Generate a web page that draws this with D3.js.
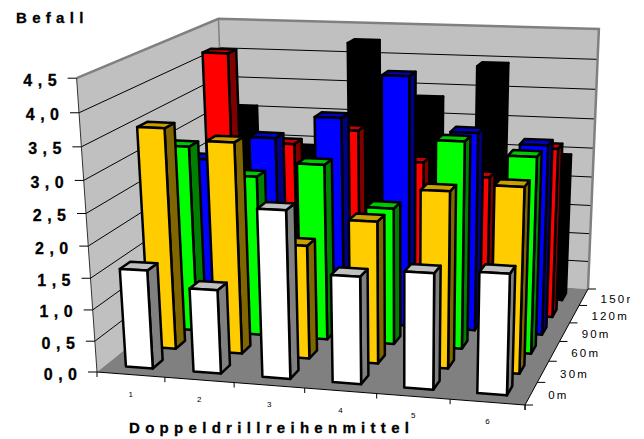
<!DOCTYPE html>
<html>
<head>
<meta charset="utf-8">
<script src="https://cdn.jsdelivr.net/npm/d3@7"></script>
<style>
  html, body { margin: 0; padding: 0; background: #fff; }
  svg { display: block; }
  text { font-family: "Liberation Sans", Arial, sans-serif; fill: #000; }
</style>
</head>
<body>
<svg id="chart" width="644" height="439"></svg>
<script>
// Befall je Reihe (Doppeldrillreihenmittel) und Entfernung
const categories = ["1", "2", "3", "4", "5", "6"];
const distances = ["0m", "30m", "60m", "90m", "120m", "150m"];
const values0m   = [1.57, 1.33, 2.62, 1.68, 1.80, 1.86];
const values30m  = [3.54, 3.37, 1.82, 2.26, 2.78, 2.90];
const values60m  = [3.05, 2.62, 2.86, 2.22, 3.32, 3.13];
const values90m  = [2.63, 3.03, 3.40, 4.10, 3.25, 3.10];
const values120m = [4.20, 2.73, 3.00, 2.52, 2.32, 2.84];
const values150m = [3.07, 2.42, 4.27, 3.35, 3.95, 2.45];
const rows = [values0m, values30m, values60m, values90m, values120m, values150m];
const zTicks = [0, 0.5, 1, 1.5, 2, 2.5, 3, 3.5, 4, 4.5];
const faceColors = ["#ffffff", "#ffcc00", "#00ff00", "#0000ff", "#ff0000", "#000000"];
const sideColors = ["#808080", "#806600", "#008000", "#000080", "#800000", "#000000"];
const topColors  = ["#c0c0c0", "#c8a000", "#00c800", "#0000c8", "#c80000", "#000000"];

// Perspective camera: floor homography, with the height column fitted to the wall corners
const floorQuad = [[97, 372], [525, 405], [588, 289], [228, 267]];
const wallTops = [[0, 0, 77, 78], [0, 1, 218, 18], [1, 1, 599, 30]];

function squareToQuad(q) {
  const [[x0, y0], [x1, y1], [x2, y2], [x3, y3]] = q;
  const dx1 = x1 - x2, dx2 = x3 - x2, sx = x0 - x1 + x2 - x3;
  const dy1 = y1 - y2, dy2 = y3 - y2, sy = y0 - y1 + y2 - y3;
  const den = dx1 * dy2 - dx2 * dy1;
  const g = (sx * dy2 - dx2 * sy) / den;
  const h = (dx1 * sy - sx * dy1) / den;
  return { a: x1 - x0 + g * x1, b: x3 - x0 + h * x3, c: x0,
           d: y1 - y0 + g * y1, e: y3 - y0 + h * y3, f: y0, g, h };
}
const H = squareToQuad(floorQuad);

// Least-squares solve for the vertical column (cx, cy, cw)
function fitHeightColumn() {
  const A = [[0,0,0],[0,0,0],[0,0,0]], B = [0,0,0];
  const add = (row, rhs) => {
    for (let i = 0; i < 3; i++) {
      B[i] += row[i] * rhs;
      for (let j = 0; j < 3; j++) A[i][j] += row[i] * row[j];
    }
  };
  wallTops.forEach(([u, v, X, Y]) => {
    const W = H.g * u + H.h * v + 1;
    add([1, 0, -X], X * W - (H.a * u + H.b * v + H.c));
    add([0, 1, -Y], Y * W - (H.d * u + H.e * v + H.f));
  });
  const det = m => m[0][0]*(m[1][1]*m[2][2]-m[1][2]*m[2][1])
                 - m[0][1]*(m[1][0]*m[2][2]-m[1][2]*m[2][0])
                 + m[0][2]*(m[1][0]*m[2][1]-m[1][1]*m[2][0]);
  const d = det(A);
  return [0, 1, 2].map(k => det(A.map((r, i) => r.map((n, j) => j === k ? B[i] : n))) / d);
}
const [cx, cy, cw] = fitHeightColumn();

const zScale = d3.scaleLinear().domain([0, 4.5]).range([0, 1]);
const uScale = d3.scaleBand().domain(categories).range([0, 1]).paddingInner(0.6).paddingOuter(0.3);
const vScale = d3.scaleBand().domain(distances).range([0, 1]).paddingInner(0.58).paddingOuter(0.35);
const uCell = d3.scaleBand().domain(categories).range([0, 1]);
const vCell = d3.scaleBand().domain(distances).range([0, 1]);

function project(u, v, z) {
  const t = zScale(z);
  const w = H.g * u + H.h * v + 1 + t * cw;
  return [(H.a * u + H.b * v + H.c + t * cx) / w,
          (H.d * u + H.e * v + H.f + t * cy) / w];
}
const poly = pts => "M" + pts.map(p => p.map(n => n.toFixed(2)).join(",")).join("L") + "Z";

const svg = d3.select("#chart");
const root = svg.append("g");

// Walls and floor
const zMax = 4.5;
root.append("path").attr("d", poly([project(0,0,0), project(0,1,0), project(0,1,zMax), project(0,0,zMax)]))
  .attr("fill", "#c0c0c0");
root.append("path").attr("d", poly([project(0,1,0), project(1,1,0), project(1,1,zMax), project(0,1,zMax)]))
  .attr("fill", "#c0c0c0");
root.append("path").attr("d", poly([project(0,0,0), project(1,0,0), project(1,1,0), project(0,1,0)]))
  .attr("fill", "#808080");

// Horizontal gridlines along both walls
zTicks.slice(1, -1).forEach(z => {
  root.append("path").attr("fill", "none").attr("stroke", "#000").attr("stroke-width", 1)
    .attr("d", d3.line()([project(0, 0, z), project(0, 1, z), project(1, 1, z)]));
});

// Wall outlines
root.append("path").attr("fill", "none").attr("stroke", "#808080").attr("stroke-width", 2.5)
  .attr("d", d3.line()([project(0,0,zMax), project(0,1,zMax), project(1,1,zMax), project(1,1,0)]));
root.append("path").attr("fill", "none").attr("stroke", "#808080").attr("stroke-width", 1.5)
  .attr("d", d3.line()([project(0,1,zMax), project(0,1,0)]));
root.append("path").attr("fill", "none").attr("stroke", "#333").attr("stroke-width", 1)
  .attr("d", d3.line()([project(0,0,zMax), project(0,0,0)]));
root.append("path").attr("fill", "none").attr("stroke", "#000").attr("stroke-width", 1)
  .attr("d", d3.line()([project(0,0,0), project(1,0,0), project(1,1,0)]));

// Axis ticks and value labels
const axes = root.append("g");
zTicks.forEach(z => {
  const p = project(0, 0, z);
  axes.append("line").attr("x1", p[0] - 9).attr("x2", p[0]).attr("y1", p[1]).attr("y2", p[1])
    .attr("stroke", "#000");
  axes.append("text").attr("x", p[0] - 14.5).attr("y", p[1] + 7.5)
    .attr("text-anchor", "end").attr("font-size", 16).attr("font-weight", "bold")
    .attr("stroke", "#000").attr("stroke-width", 0.3)
    .attr("letter-spacing", 5.5).text(d3.format(".1f")(z).replace(".", ","));
});
categories.forEach((c, i) => {
  const p = project((i + 1) / 6, 0, 0);
  axes.append("line").attr("x1", p[0]).attr("x2", p[0]).attr("y1", p[1]).attr("y2", p[1] + 5)
    .attr("stroke", "#000");
  const q = project(uCell(c) + uCell.bandwidth() / 2, 0, 0);
  axes.append("text").attr("x", q[0]).attr("y", q[1] + 22).attr("text-anchor", "middle")
    .attr("font-size", 8).text(c);
});
const p00 = project(0, 0, 0);
axes.append("line").attr("x1", p00[0]).attr("x2", p00[0]).attr("y1", p00[1]).attr("y2", p00[1] + 5).attr("stroke", "#000");

// Distance labels are cut off by the chart's right margin
svg.append("clipPath").attr("id", "margin").append("rect")
  .attr("x", 0).attr("y", 0).attr("width", 630).attr("height", 439);
const depthAxis = axes.append("g").attr("clip-path", "url(#margin)");
distances.forEach((d, i) => {
  const p = project(1, (i + 1) / 6, 0);
  axes.append("line").attr("x1", p[0]).attr("x2", p[0] + 8).attr("y1", p[1]).attr("y2", p[1]).attr("stroke", "#000");
  const q = project(1, vCell(d) + vCell.bandwidth() / 2, 0);
  depthAxis.append("text").attr("x", q[0] + 17).attr("y", q[1] + 6)
    .attr("font-size", 11.5).attr("letter-spacing", 2.2).text(d);
});
const p10 = project(1, 0, 0);
axes.append("line").attr("x1", p10[0]).attr("x2", p10[0] + 8).attr("y1", p10[1]).attr("y2", p10[1]).attr("stroke", "#000");
axes.append("line").attr("x1", p10[0]).attr("x2", p10[0]).attr("y1", p10[1]).attr("y2", p10[1] + 5).attr("stroke", "#000");

// Columns, back row first so nearer bars overlap
const bars = root.append("g").attr("stroke", "#000").attr("stroke-width", 2.5).attr("stroke-linejoin", "round");
for (let s = distances.length - 1; s >= 0; s--) {
  categories.forEach((c, i) => {
    const u0 = uScale(c), u1 = u0 + uScale.bandwidth();
    const v0 = vScale(distances[s]), v1 = v0 + vScale.bandwidth();
    const z = rows[s][i];
    bars.append("path").attr("fill", sideColors[s])
      .attr("d", poly([project(u1, v0, 0), project(u1, v1, 0), project(u1, v1, z), project(u1, v0, z)]));
    bars.append("path").attr("fill", topColors[s])
      .attr("d", poly([project(u0, v0, z), project(u1, v0, z), project(u1, v1, z), project(u0, v1, z)]));
    bars.append("path").attr("fill", faceColors[s])
      .attr("d", poly([project(u0, v0, 0), project(u1, v0, 0), project(u1, v0, z), project(u0, v0, z)]));
  });
}

// Axis titles
svg.append("text").attr("x", 16).attr("y", 23).attr("font-size", 15).attr("font-weight", "bold")
  .attr("stroke", "#000").attr("stroke-width", 0.3).attr("letter-spacing", 5.3).text("Befall");
svg.append("text").attr("x", 129).attr("y", 433).attr("font-size", 15).attr("font-weight", "bold")
  .attr("stroke", "#000").attr("stroke-width", 0.3).attr("letter-spacing", 5.3).text("Doppeldrillreihenmittel");
</script>
</body>
</html>
